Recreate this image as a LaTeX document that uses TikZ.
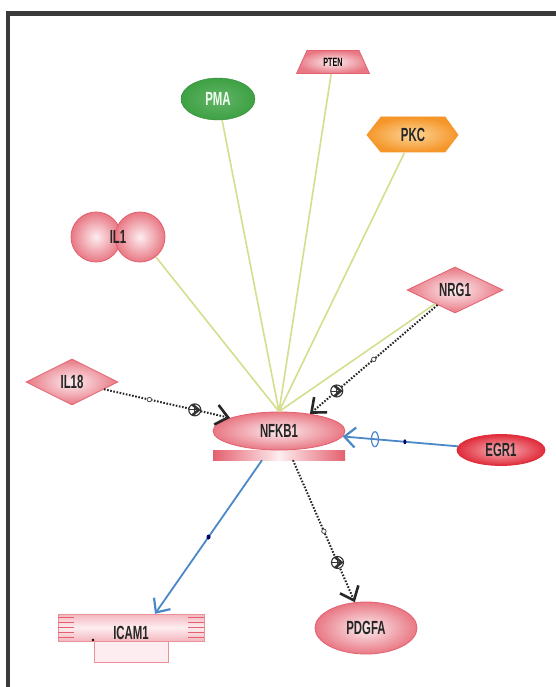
\documentclass[tikz,border=0pt]{standalone}
\usepackage{fontspec}
\setmainfont{Liberation Sans}
\usetikzlibrary{shapes.geometric,arrows.meta}
\definecolor{edgered}{HTML}{E4606E}
\definecolor{lightpink}{HTML}{FDEDF0}
\definecolor{deepred}{HTML}{E02B3A}
\definecolor{deepcore}{HTML}{F7B4BA}
\definecolor{leafgreen}{HTML}{3DA143}
\definecolor{orangeedge}{HTML}{F5962A}
\definecolor{orangecore}{HTML}{FCD596}
\definecolor{linkyellow}{HTML}{D6DE8E}
\definecolor{linkblue}{HTML}{4A88C8}
\definecolor{framegray}{HTML}{3A3A3A}
\newcommand\narrow[1]{\scalebox{0.6}[1]{\bfseries #1}}
\begin{document}
\begin{tikzpicture}[x=1pt,y=-1pt,
  lab/.style={font=\fontsize{19}{19}\selectfont, inner sep=0pt, text=black!85},
  pinkshade/.style={draw=edgered, line width=0.8pt, shade, inner color=lightpink, outer color=edgered!85},
  yline/.style={draw=linkyellow, line width=1.6pt},
  dotline/.style={draw=black!85, line width=2pt, dash pattern=on 1.6pt off 1.6pt,
    -{Straight Barb[length=12pt,width=20pt,line width=2.6pt]}},
  bline/.style={draw=linkblue, line width=1.8pt,
    -{Straight Barb[length=11pt,width=20pt,line width=2.2pt]}},
  plusmark/.style={solid, circle, draw=black!80, line width=1.1pt, fill=white, inner sep=0pt, minimum size=12pt,
    path picture={\draw[solid, black!80, line width=0.9pt]
      (path picture bounding box.north) -- (path picture bounding box.south)
      (path picture bounding box.west) -- (path picture bounding box.east);}},
  ringmark/.style={solid, circle, draw=black!70, fill=white, line width=0.8pt, inner sep=0pt, minimum size=4.5pt},
]
% canvas and frame
\fill[white] (0,0) rectangle (556,687);
\useasboundingbox (0,0) rectangle (556,687);
\draw[framegray, line width=4.5pt] (8,687) -- (8,13.5) -- (556,13.5);

% NFKB1 base bar and body
\node[rectangle, minimum width=132pt, minimum height=10pt, inner sep=0pt,
  left color=edgered, right color=edgered, middle color=lightpink] (nfbar) at (279,455) {};
\node[ellipse, minimum width=132pt, minimum height=38pt, inner sep=0pt, pinkshade, lab] (nfkb) at (279,431) {\narrow{NFKB1}};

% upstream molecules
\node[trapezium, trapezium left angle=65, trapezium right angle=65, trapezium stretches=true,
  minimum width=73pt, minimum height=23pt, inner sep=0pt, pinkshade,
  font=\fontsize{12}{12}\selectfont] (pten) at (333,62) {\narrow{PTEN}};
\node[ellipse, minimum width=74pt, minimum height=42pt, inner sep=0pt, draw=leafgreen!85!black,
  shade, inner color=leafgreen!80, outer color=leafgreen, lab, text=green!6] (pma) at (218,99) {\narrow{PMA}};

\shade[inner color=orangecore, outer color=orangeedge, draw=orangeedge, line width=0.8pt]
  (367,135) -- (381,117) -- (445,117) -- (458,135) -- (445,152) -- (381,152) -- cycle;
\node[rectangle, minimum width=91pt, minimum height=35pt, inner sep=0pt, lab] (pkc) at (413,135) {\narrow{PKC}};

\node[circle, minimum size=50pt, inner sep=0pt, pinkshade] (il1a) at (96,237) {};
\node[circle, minimum size=50pt, inner sep=0pt, pinkshade] (il1b) at (140,237) {};
\node[lab] (il1) at (118,237) {\narrow{IL1}};

\node[diamond, minimum width=96pt, minimum height=46pt, inner sep=0pt, pinkshade, lab] (nrg1) at (455,290) {\narrow{NRG1}};
\node[diamond, minimum width=92pt, minimum height=46pt, inner sep=0pt, pinkshade, lab] (il18) at (72,382) {\narrow{IL18}};

\node[ellipse, minimum width=88pt, minimum height=31pt, inner sep=0pt, draw=deepred, line width=0.8pt,
  shade, inner color=deepcore, outer color=deepred, lab] (egr1) at (501,450) {\narrow{EGR1}};

% downstream molecules
\node[ellipse, minimum width=102pt, minimum height=52pt, inner sep=0pt, pinkshade, lab] (pdgfa) at (366,628) {\narrow{PDGFA}};

\node[rectangle, minimum width=74pt, minimum height=22pt, inner sep=0pt, draw=edgered!70,
  fill=lightpink] (icambox) at (131,651) {};
\node[rectangle, minimum width=146pt, minimum height=27pt, inner sep=0pt, draw=edgered!70,
  top color=edgered!45, bottom color=edgered!45, middle color=lightpink] (icam) at (131,627.5) {};
\foreach \k in {0,...,4} {
  \draw[edgered, line width=0.9pt] (58,617+\k*5) -- (74,617+\k*5);
  \draw[edgered, line width=0.9pt] (188,617+\k*5) -- (204,617+\k*5);
}
\fill[black] (93,640) circle (1.3);
\node[lab] (icamlbl) at (131,633) {\narrow{ICAM1}};

% binding links
\draw[yline] (pma) -- (nfkb.north);
\draw[yline] (pten) -- (nfkb.north);
\draw[yline] (pkc) -- (nfkb.north);
\draw[yline] (il1b) -- (nfkb.north);
\draw[yline] (nrg1) -- (nfkb.north);

% activating links
\draw[dotline] (nrg1) -- node[ringmark, pos=0.5] (r1) {} node[plusmark, pos=0.79] (p1) {} (nfkb.29);
\draw[dotline] (il18) -- node[ringmark, pos=0.36] (r2) {} node[plusmark, pos=0.72] (p2) {} (nfkb.165);
\draw[dotline] ([xshift=14pt]nfbar.south) -- node[ringmark, pos=0.5] (r3) {} node[plusmark, pos=0.72] (p3) {} (pdgfa);

% expression links
\draw[bline] (egr1) -- node[pos=0.46, ellipse, fill=blue!40!black, inner sep=0pt, minimum width=3pt, minimum height=5pt] (d1) {}
  node[pos=0.72, ellipse, draw=linkblue, line width=1.2pt, inner sep=0pt, minimum width=7pt, minimum height=15pt] (o1) {} (nfkb);
\draw[bline] ([xshift=-17pt]nfbar.south) -- node[pos=0.5, ellipse, fill=blue!40!black, inner sep=0pt, minimum width=4pt, minimum height=5pt] (d2) {}
  ([xshift=24pt]icam.north);
\end{tikzpicture}
\end{document}
